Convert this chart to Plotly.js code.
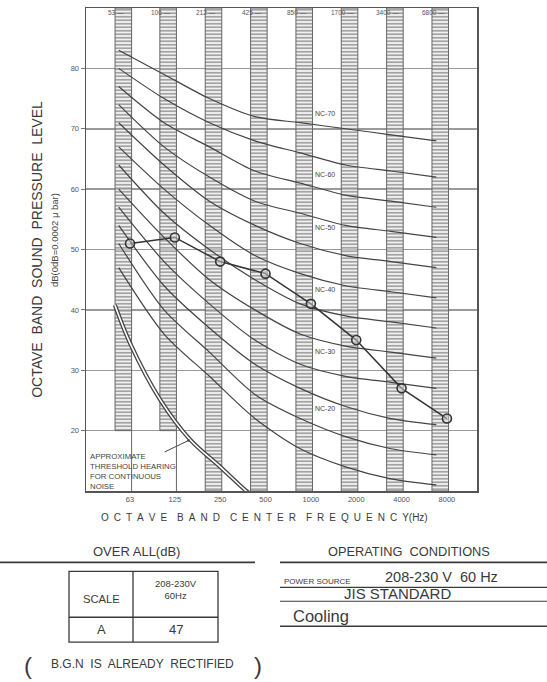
<!DOCTYPE html>
<html><head><meta charset="utf-8">
<script src="https://cdn.plot.ly/plotly-3.0.1.min.js"></script>
<style>html,body{margin:0;padding:0;background:#fff}</style>
</head><body><div id="chart" style="width:547px;height:682px"></div>
<script>
// ---- data ----
const bandCenters = [63, 125, 250, 500, 1000, 2000, 4000, 8000];
const bandLabels = ['63', '125', '250', '500', '1000', '2000', '4000', '8000'];
const bandEdges = [53, 106, 212, 425, 850, 1700, 3400, 6800];
const bandEdgeLabels = ['53', '106', '212', '425', '850', '1700', '3400', '6800'];
const columnBottom = [20, 20, 10, 10, 10, 10, 10, 10];
const measuredSPL = [51, 52, 48, 46, 41, 35, 27, 22];
const ncNames = ['NC-15','NC-20','NC-25','NC-30','NC-35','NC-40','NC-45','NC-50','NC-55','NC-60','NC-65','NC-70'];
const nc15 = [47, 36, 29, 22, 17, 14, 12, 11];
const nc20 = [51, 40, 33, 26, 22, 19, 17, 16];
const nc25 = [54, 44, 37, 31, 27, 24, 22, 21];
const nc30 = [57, 48, 41, 35, 31, 29, 28, 27];
const nc35 = [60, 52, 45, 40, 36, 34, 33, 32];
const nc40 = [64, 56, 50, 45, 41, 39, 38, 37];
const nc45 = [67, 60, 54, 49, 46, 44, 43, 42];
const nc50 = [71, 64, 58, 54, 51, 49, 48, 47];
const nc55 = [74, 67, 62, 58, 56, 54, 53, 52];
const nc60 = [77, 71, 67, 63, 61, 59, 58, 57];
const nc65 = [80, 75, 71, 68, 66, 64, 63, 62];
const nc70 = [83, 79, 75, 72, 71, 70, 69, 68];
const ncLabeled = ['NC-70', 'NC-60', 'NC-50', 'NC-40', 'NC-30', 'NC-20'];
const thresholdFreq = [50, 63, 100, 158, 250, 365, 420];
const thresholdDB = [40.8, 34.5, 25.1, 18.5, 14.0, 10.2, 9.0];
const overallScale = 'A';
const overallValue = '47';
const powerSource = '208-230 V  60 Hz';

// ---- layout helpers ----
const W = 547, H = 682;
const L = 86, R = 477, T = 7.5, B = 491.5;
const px = x => (x - L) / (R - L);
const py = y => (B - y) / (B - T);
const ink = '#3a3a3a';
const FONT = 'Liberation Sans, Arial, sans-serif';
const lx = Math.log10;
const spaced = (s) => s.split(' ').map(w => w.split('').join('\u2002')).join('\u2002\u2002');

const ncSeries = [nc15, nc20, nc25, nc30, nc35, nc40, nc45, nc50, nc55, nc60, nc65, nc70];
const traces = [];

// hatched band columns
bandCenters.forEach((f, i) => {
  const l = f * Math.pow(2, -0.33), r = f * Math.pow(2, 0.035);
  const b = columnBottom[i];
  traces.push({
    type: 'scatter', mode: 'lines', x: [l, r, r, l, l], y: [b, b, 90, 90, b],
    fill: 'toself', fillcolor: 'rgba(200,200,200,0.55)',
    fillpattern: {shape: '-', size: 3.5, solidity: 0.4, fgcolor: '#8f8f8f', bgcolor: 'rgba(228,228,228,0.5)', fillmode: 'replace'},
    line: {color: '#666', width: 1}, hoverinfo: 'skip', showlegend: false
  });
  if (b > 10) {
    traces.push({type: 'scatter', mode: 'lines', x: [r, r], y: [10, b],
      line: {color: '#666', width: 1}, hoverinfo: 'skip', showlegend: false});
  }
});

// NC curves
ncSeries.forEach((s, i) => {
  traces.push({type: 'scatter', mode: 'lines', x: bandEdges, y: s, name: ncNames[i],
    line: {color: '#444', width: 1.2, shape: 'spline', smoothing: 0.8},
    hoverinfo: 'name', showlegend: false});
});

// threshold of hearing (double line)
traces.push({type: 'scatter', mode: 'lines', x: thresholdFreq, y: thresholdDB,
  line: {color: '#444', width: 4.2, shape: 'spline'}, hoverinfo: 'skip', showlegend: false});
traces.push({type: 'scatter', mode: 'lines', x: thresholdFreq, y: thresholdDB,
  line: {color: '#fff', width: 1.6, shape: 'spline'}, hoverinfo: 'skip', showlegend: false});

// measured data
traces.push({type: 'scatter', mode: 'lines+markers', x: bandCenters, y: measuredSPL, name: 'Cooling',
  line: {color: '#333', width: 1.5},
  marker: {symbol: 'circle', size: 9, color: 'rgba(215,215,215,0.5)', line: {color: '#333', width: 1.6}},
  showlegend: false});

const ann = [];
// top band edge labels
bandEdges.forEach((f, i) => {
  ann.push({xref: 'x', yref: 'y', x: lx(f), y: 89.2, text: bandEdgeLabels[i] + ' \u2014',
    showarrow: false, xanchor: 'center', yanchor: 'middle', xshift: -3,
    font: {family: FONT, size: 6.5, color: '#555'}});
});
// NC labels (placed just above their curves)
const ncLabelLift = [1.5, 1.4, 2.6, 2.3, 2.1, 1.6];
ncLabeled.forEach((n, k) => {
  const s = ncSeries[ncNames.indexOf(n)];
  ann.push({xref: 'x', yref: 'y', x: lx(1240), y: s[4] + ncLabelLift[k], text: n, showarrow: false,
    xanchor: 'center', yanchor: 'middle',
    font: {family: FONT, size: 7, color: '#444'}});
});
// threshold note
ann.push({xref: 'paper', yref: 'paper', x: px(88), y: py(450), xanchor: 'left', yanchor: 'top', align: 'left',
  text: 'APPROXIMATE<br>THRESHOLD HEARING<br>FOR CONTINUOUS<br>NOISE', showarrow: false,
  font: {family: FONT, size: 7.8, color: '#444'}});
ann.push({xref: 'x', yref: 'y', x: lx(158), y: 18.5, text: '', showarrow: true, ax: -27, ay: 13,
  arrowhead: 2, arrowsize: 0.6, arrowwidth: 1, arrowcolor: '#444'});
// x-axis title
ann.push({xref: 'paper', yref: 'paper', x: px(264), y: py(518), xanchor: 'center', yanchor: 'middle',
  text: spaced('OCTAVE BAND CENTER FREQUENCY') + '(Hz)', showarrow: false,
  font: {family: FONT, size: 10, color: ink}});
// y subtitle
ann.push({xref: 'paper', yref: 'paper', x: px(54), y: py(240), xanchor: 'center', yanchor: 'middle',
  text: 'dB(0dB=0.0002 \u03bc bar)', textangle: -90,
  showarrow: false, font: {family: FONT, size: 9.5, color: '#444'}});

// lower panel text
const P = (x, y, text, size, opts) => Object.assign({xref: 'paper', yref: 'paper', x: px(x), y: py(y), text: text,
  xanchor: 'center', yanchor: 'middle',
  showarrow: false, font: {family: FONT, size: size, color: ink}}, opts || {});
ann.push(P(136, 552, 'OVER ALL(dB)', 13));
ann.push(P(409, 552, 'OPERATING\u00a0 CONDITIONS', 12.8));
ann.push(P(101, 600, 'SCALE', 11.2));
ann.push(P(176, 590, '208-230V<br>60Hz', 9.5));
ann.push(P(101, 630, overallScale, 13));
ann.push(P(176, 630, overallValue, 13));
ann.push(P(142, 665, 'B.G.N\u00a0 IS\u00a0 ALREADY\u00a0 RECTIFIED', 12));
ann.push(P(28, 666, '(', 24));
ann.push(P(258, 666, ')', 24));
ann.push(P(282, 582, 'POWER\u00a0SOURCE', 8, {xanchor: 'left'}));
ann.push(P(441, 578, powerSource.replace(/ /g, '\u00a0'), 14.5));
ann.push(P(397, 594, 'JIS STANDARD', 15));
ann.push(P(291, 617, 'Cooling', 16.5, {xanchor: 'left'}));

const shapes = [];
const line = (x0, y0, x1, y1, w) => shapes.push({type: 'line', xref: 'paper', yref: 'paper',
  x0: px(x0), y0: py(y0), x1: px(x1), y1: py(y1), line: {color: ink, width: w || 1.3}});
line(0, 563, 255, 563, 1.6);
line(280, 563, 547, 563, 1.6);
line(280, 588, 547, 588, 1.2);
line(280, 602, 547, 602, 1.2);
line(280, 627, 547, 627, 1.4);
// table
shapes.push({type: 'rect', xref: 'paper', yref: 'paper', x0: px(69), y0: py(643), x1: px(218), y1: py(572),
  line: {color: ink, width: 1.3}});
line(133, 572, 133, 643, 1.3);
line(69, 618, 218, 618, 1.3);

const layout = {
  width: W, height: H, paper_bgcolor: '#fff', plot_bgcolor: '#fff',
  margin: {l: L, r: W - R, t: T, b: H - B, pad: 0},
  showlegend: false,
  xaxis: {type: 'log', range: [1.5072, 4.1026], tickvals: bandCenters, ticktext: bandLabels,
    showgrid: false, zeroline: false, ticks: '', showline: true, mirror: true, linecolor: '#555', linewidth: 1.5,
    tickfont: {family: FONT, size: 7.5, color: '#555'}},
  yaxis: {range: [10, 90], tickvals: [20, 30, 40, 50, 60, 70, 80], showgrid: true, gridcolor: '#9a9a9a', gridwidth: 1.5,
    zeroline: false, ticks: 'outside', ticklen: 4, tickcolor: '#777', showline: true, mirror: true, linecolor: '#555', linewidth: 1.5,
    tickfont: {family: FONT, size: 7.5, color: '#555'},
    title: {text: 'OCTAVE\u00a0 BAND\u00a0 SOUND\u00a0 PRESSURE\u00a0 LEVEL', standoff: 25, font: {family: FONT, size: 14, color: ink}}},
  annotations: ann, shapes: shapes
};
Plotly.newPlot('chart', traces, layout, {staticPlot: true});
</script></body></html>
